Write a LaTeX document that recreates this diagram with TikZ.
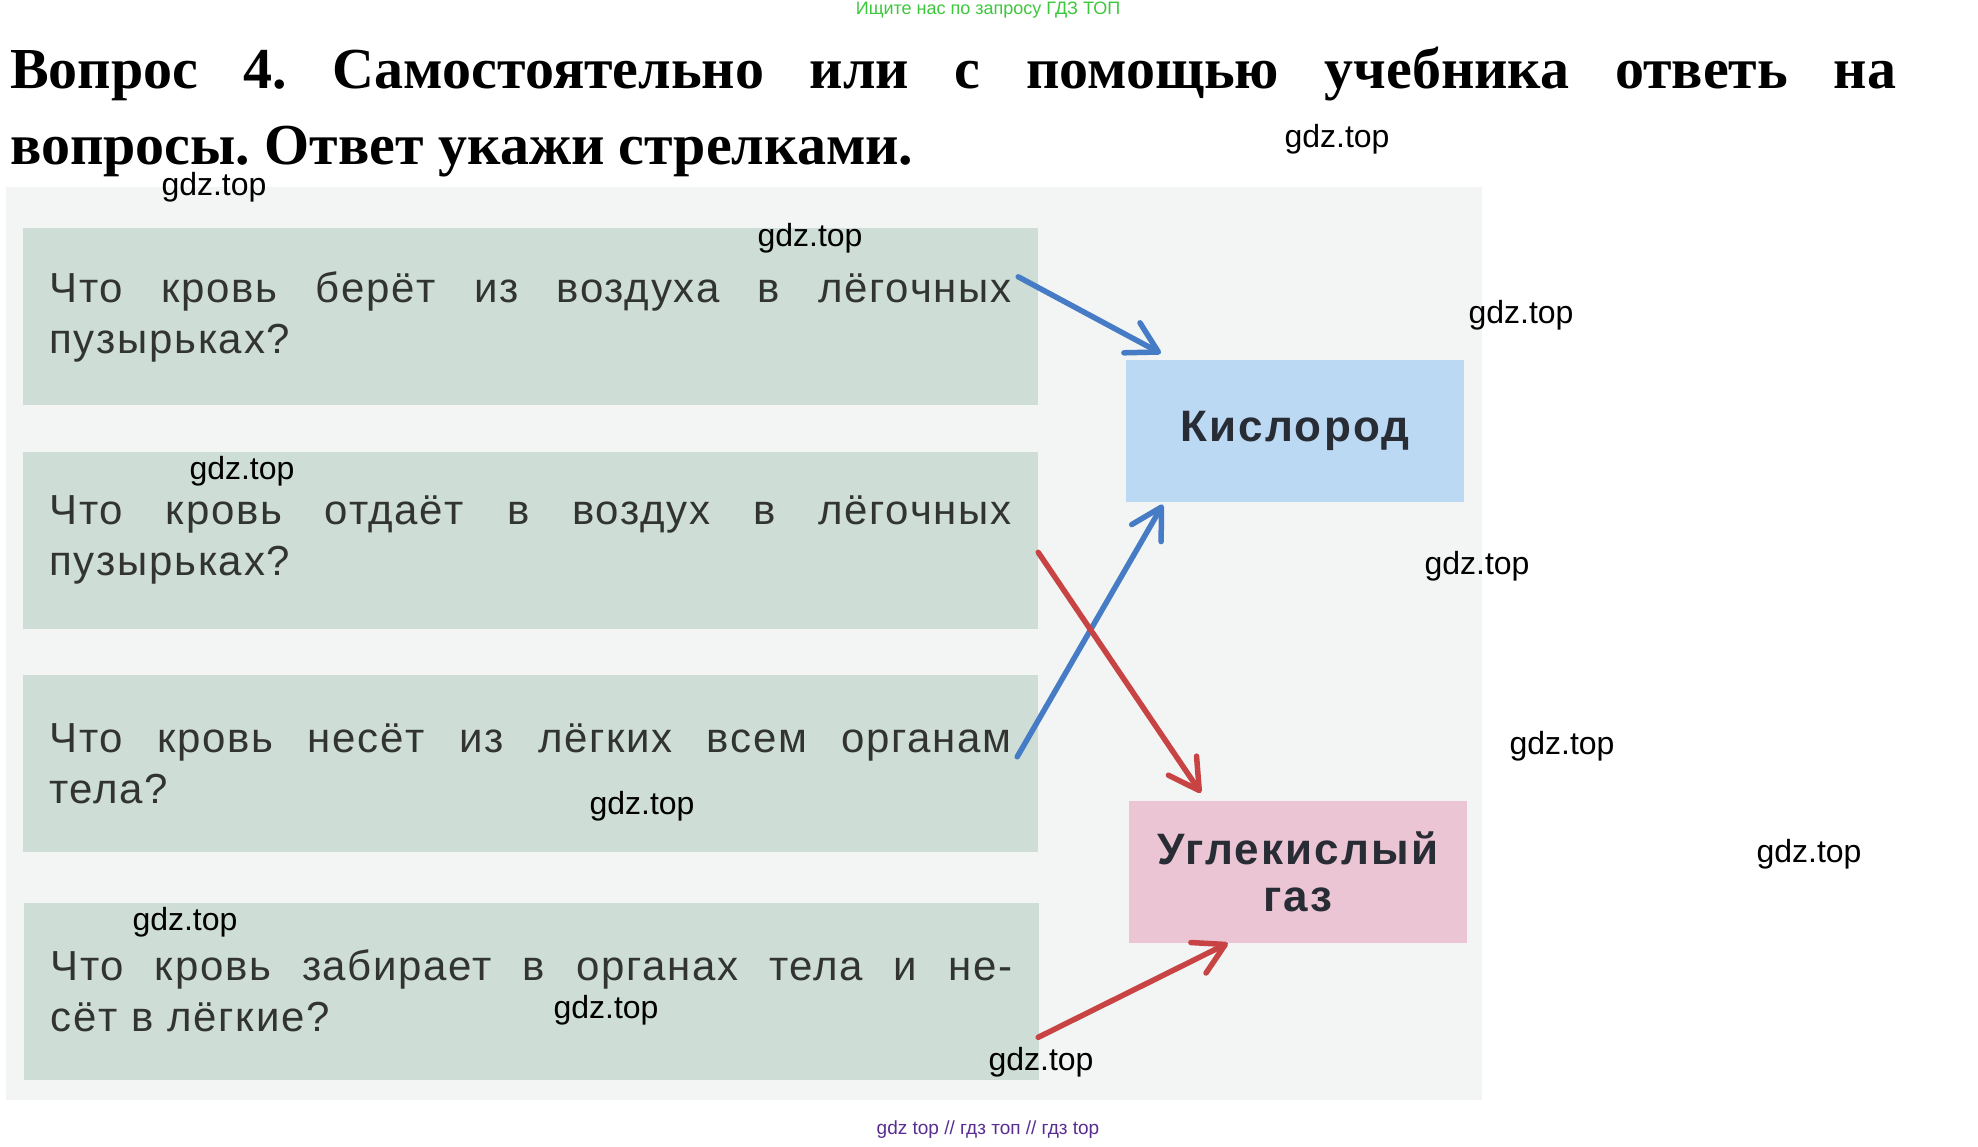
\documentclass[tikz,border=0pt]{standalone}
\usepackage{fontspec}
\setmainfont{Liberation Serif}
\newfontfamily\qfont[LetterSpace=4]{Liberation Sans}
\newfontfamily\afont[LetterSpace=5]{Liberation Sans}
\newfontfamily\wmfont{Liberation Sans}
\usetikzlibrary{arrows.meta,calc}
\definecolor{qgreen}{RGB}{206,222,214}
\definecolor{oxyblue}{RGB}{187,217,243}
\definecolor{copink}{RGB}{236,197,212}
\definecolor{arrblue}{RGB}{70,124,197}
\definecolor{arrred}{RGB}{200,68,68}
\definecolor{scanbg}{RGB}{243,244,244}
\definecolor{qtext}{RGB}{50,52,51}
\definecolor{atext}{RGB}{40,44,52}
\definecolor{wmgreen}{RGB}{60,200,60}
\definecolor{wmpurple}{RGB}{90,45,145}
\newcommand\jline[2]{\hbox to #1{\spaceskip=0.25em plus 1fil\relax\xspaceskip=\spaceskip #2}}
\tikzset{
  qbox/.style={fill=qgreen, draw=none, minimum width=1015pt, minimum height=177pt,
    inner sep=0pt, text width=962pt, align=left, text=qtext,
    font=\qfont\fontsize{42}{51}\selectfont},
  ansbox/.style={draw=none, minimum width=338pt, minimum height=142pt, inner sep=0pt,
    align=center, text=atext, font=\afont\bfseries\fontsize{44}{47}\selectfont},
  wm/.style={inner sep=0pt, text=black, font=\wmfont\fontsize{32}{38}\selectfont},
  arr/.style={line width=5.5pt, line cap=round,
    -{Straight Barb[length=30pt,width=34pt,round]}},
  titleline/.style={inner sep=0pt, anchor=base west, font=\frenchspacing\bfseries\fontsize{58}{78}\selectfont}
}
\begin{document}
\begin{tikzpicture}[x=1pt,y=-1pt]
\useasboundingbox (0,0) rectangle (1978,1146);
\fill[white] (0,0) rectangle (1978,1146);
\fill[scanbg] (6,187) rectangle (1482,1100);

\node[inner sep=0pt, text=wmgreen, font=\wmfont\fontsize{18}{20}\selectfont] (top) at (988,10) {Ищите нас по запросу ГДЗ ТОП};

\node[titleline] (t1) at (10,88) {\jline{1886pt}{Вопрос 4. Самостоятельно или с помощью учебника ответь на}};
\node[titleline] (t2) at (10,164) {вопросы. Ответ укажи стрелками.};

\node[qbox] (q1) at (530.5,316.5) {\jline{962pt}{Что кровь берёт из воздуха в лёгочных}\\пузырьках?};
\node[qbox] (q2) at (530.5,540) {\jline{962pt}{Что кровь отдаёт в воздух в лёгочных}\\пузырьках?};
\node[qbox] (q3) at (530.5,763.5) {\jline{962pt}{Что кровь несёт из лёгких всем органам}\\тела?};
\node[qbox] (q4) at (531.5,991) {\jline{962pt}{Что кровь забирает в органах тела и не-}\\сёт в лёгкие?};

\node[ansbox, fill=oxyblue] (oxy) at (1295,430.5) {Кислород};
\node[ansbox, fill=copink] (co2) at (1298,872) {Углекислый\\газ};

\draw[arr, arrblue] ($(q1.north east)+(-20,49)$) -- ($(oxy.north west)+(35,-6)$);
\draw[arr, arrblue] ($(q3.north east)+(-21,82)$) -- ($(oxy.south west)+(37,3)$);
\draw[arr, arrred] ($(q2.north east)+(0,101)$) -- ($(co2.north west)+(72,-8)$);
\draw[arr, arrred] ($(q4.north east)+(-1,135)$) -- ($(co2.south west)+(99,0)$);

\node[wm] (w1) at (1337,139) {gdz.top};
\node[wm] (w2) at (214,187) {gdz.top};
\node[wm] (w3) at (810,238) {gdz.top};
\node[wm] (w4) at (1521,315) {gdz.top};
\node[wm] (w5) at (242,471) {gdz.top};
\node[wm] (w6) at (1477,566) {gdz.top};
\node[wm] (w7) at (1562,746) {gdz.top};
\node[wm] (w8) at (642,806) {gdz.top};
\node[wm] (w9) at (1809,854) {gdz.top};
\node[wm] (w10) at (185,922) {gdz.top};
\node[wm] (w11) at (606,1010) {gdz.top};
\node[wm] (w12) at (1041,1062) {gdz.top};

\node[inner sep=0pt, text=wmpurple, font=\wmfont\fontsize{19}{21}\selectfont] (bottom) at (988,1130) {gdz top // гдз топ // гдз top};
\end{tikzpicture}
\end{document}
